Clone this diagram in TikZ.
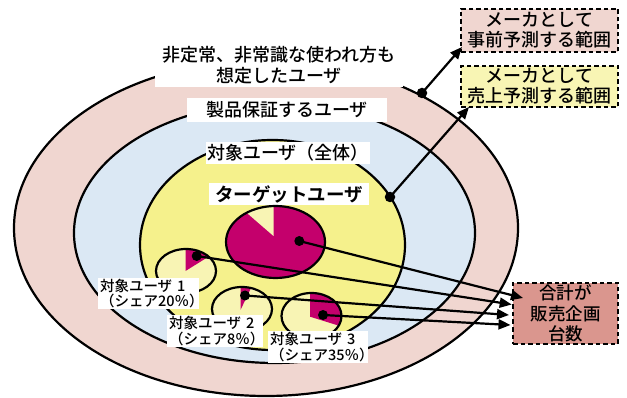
\documentclass[tikz,border=0pt]{standalone}
\usepackage{fontspec}
\setmainfont{Noto Sans CJK JP Medium}[BoldFont={Noto Sans CJK JP Bold}]
\usetikzlibrary{arrows.meta}
\definecolor{outerpink}{HTML}{F0D6D0}
\definecolor{bluec}{HTML}{DBE8F4}
\definecolor{yellowc}{HTML}{F5F18C}
\definecolor{paley}{HTML}{F8F4B4}
\definecolor{mag}{HTML}{C4006C}
\definecolor{boxy}{HTML}{F8F5B4}
\definecolor{boxc}{HTML}{DA968E}
\begin{document}
\begin{tikzpicture}[x=1pt,y=-1pt,
  ring/.style={draw=black,line width=2.2pt},
  whitelabel/.style={fill=white,inner sep=0pt,align=center,font=\fontsize{18}{21}\selectfont},
  sidebox/.style={draw=black,line width=1.6pt,dash pattern=on 4.5pt off 3pt,inner sep=0pt,align=center},
  arr/.style={line width=2.2pt,-{Triangle[length=12pt,width=10pt]}},
  dotn/.style={circle,fill=black,inner sep=0pt,minimum size=10pt},
  pieline/.style={draw=black,line width=2.2pt},
  small/.style={fill=white,inner sep=0pt,align=left,font=\fontsize{14.5}{15.5}\selectfont}
]
\useasboundingbox (0,0) rectangle (627,398);
% rings
\draw[ring,fill=outerpink] (266,228) ellipse [x radius=252,y radius=168];
\draw[ring,fill=bluec] (274.5,233) ellipse [x radius=200.5,y radius=130];
\draw[ring,fill=yellowc] (272.5,245) ellipse [x radius=132.5,y radius=105];
% ring labels
\node[whitelabel,minimum width=248pt,minimum height=43pt] (lblouter) at (279,65.5) {非定常、非常識な使われ方も\\想定したユーザ};
\node[whitelabel,minimum width=200pt,minimum height=24pt] (lblprod) at (287,110) {製品保証するユーザ};
\node[whitelabel,minimum width=164pt,minimum height=22pt] (lblall) at (288,153) {対象ユーザ（全体）};
\node[whitelabel,minimum width=160pt,minimum height=22pt,font=\fontsize{18.5}{21}\selectfont\bfseries] (lbltarget) at (289,194) {ターゲットユーザ};
% big pie
\fill[mag] (275.5,242) ellipse [x radius=49.5,y radius=36];
\begin{scope}
\clip (275.5,242) ellipse [x radius=49.5,y radius=36];
\fill[paley] (273.5,236) -- (273.5,190) -- (221.9,191.3) -- cycle;
\end{scope}
\draw[pieline] (275.5,242) ellipse [x radius=49.5,y radius=36];
% pie 1
\fill[paley] (186,271) ellipse [x radius=30,y radius=22];
\begin{scope}
\clip (186,271) ellipse [x radius=30,y radius=22];
\fill[mag] (185.5,271) -- (185.5,240) -- (230.5,243) -- cycle;
\end{scope}
\draw[pieline] (186,271) ellipse [x radius=30,y radius=22];
% pie 2
\fill[paley] (242,309) ellipse [x radius=30,y radius=22];
\begin{scope}
\clip (242,309) ellipse [x radius=30,y radius=22];
\fill[mag] (240.5,310) -- (240.5,262) -- (261.5,266) -- cycle;
\end{scope}
\draw[pieline] (242,309) ellipse [x radius=30,y radius=22];
% pie 3
\fill[paley] (311.5,316) ellipse [x radius=30,y radius=23];
\begin{scope}
\clip (311.5,316) ellipse [x radius=30,y radius=23];
\fill[mag] (310,316.7) -- (310,285) -- (352.7,285) -- (352.7,330) -- cycle;
\end{scope}
\draw[pieline] (311.5,316) ellipse [x radius=30,y radius=23];
% small labels
\node[small,minimum width=101pt,minimum height=31pt,text width=97pt] (lab1) at (148.5,293.5) {対象ユーザ 1\\（シェア20％）};
\node[small,minimum width=96pt,minimum height=32pt,text width=92pt] (lab2) at (215,331) {対象ユーザ 2\\（シェア8％）};
\node[small,minimum width=100pt,minimum height=32pt,text width=96pt] (lab3) at (318,347) {対象ユーザ 3\\（シェア35％）};
% side boxes
\node[sidebox,fill=outerpink,minimum width=157pt,minimum height=43pt,font=\fontsize{18}{20}\selectfont] (boxA) at (539.5,30.5) {メーカとして\\事前予測する範囲};
\node[sidebox,fill=boxy,minimum width=157pt,minimum height=41pt,font=\fontsize{18}{20}\selectfont] (boxB) at (539.5,86.5) {メーカとして\\売上予測する範囲};
\node[sidebox,fill=boxc,minimum width=105pt,minimum height=61pt,font=\fontsize{17.5}{20.5}\selectfont] (boxC) at (565.5,313.5) {合計が\\販売企画\\台数};
% connector points
\coordinate (pOuter) at (422,93);
\coordinate (pYellow) at (390,197);
\coordinate (p0) at (299.3,241);
\coordinate (p1) at (196.7,256);
\coordinate (p2) at (245,295.5);
\coordinate (p3) at (323,315);
\coordinate (tA) at (462,47);
\coordinate (tB) at (469,107);
\coordinate (tC0) at (523,298);
\coordinate (tC1) at (511.7,304.5);
\coordinate (tC2) at (509,315);
\coordinate (tC3) at (510.5,325);
\draw[arr] (pOuter) -- (tA);
\draw[arr] (pYellow) -- (tB);
\draw[arr] (p0) -- (tC0);
\draw[arr] (p1) -- (tC1);
\draw[arr] (p2) -- (tC2);
\draw[arr] (p3) -- (tC3);
\node[dotn,minimum size=10.5pt] (dOuter) at (pOuter) {};
\node[dotn,minimum size=10.5pt] (dYellow) at (pYellow) {};
\node[dotn] (d0) at (p0) {};
\node[dotn] (d1) at (p1) {};
\node[dotn] (d2) at (p2) {};
\node[dotn] (d3) at (p3) {};
\end{tikzpicture}
\end{document}
